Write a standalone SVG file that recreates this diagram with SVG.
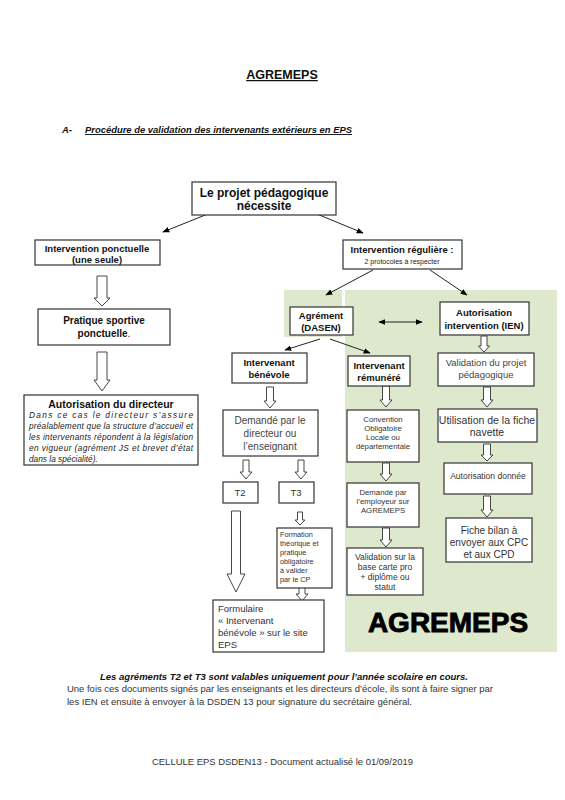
<svg xmlns="http://www.w3.org/2000/svg" width="565" height="800" viewBox="0 0 565 800">
<defs>
<marker id="ah" viewBox="0 0 10 10" refX="9" refY="5" markerWidth="7" markerHeight="7" orient="auto-start-reverse" markerUnits="userSpaceOnUse">
<path d="M0,1 L10,5 L0,9 z" fill="#000"/>
</marker>
<style>
text{font-family:"Liberation Sans",Arial,sans-serif;}
.box{fill:#fff;stroke:#333;stroke-width:1.2;}
.b{font-weight:bold;fill:#111;}
.g{fill:#444;}
.c{text-anchor:middle;}
.ln{stroke:#222;stroke-width:1;fill:none;marker-end:url(#ah);}
.ha{fill:#fff;stroke:#333;stroke-width:0.9;}
.green{fill:#dde8cc;}
</style>
</defs>
<rect width="565" height="800" fill="#fff"/>

<!-- headings -->
<text x="282" y="79" class="b c" font-size="12.5" text-decoration="underline">AGREMEPS</text>
<text x="62" y="133" font-size="9.5" font-style="italic" font-weight="bold" fill="#111">A-</text>
<text x="85" y="133" font-size="9.5" font-style="italic" font-weight="bold" fill="#111" text-decoration="underline" textLength="267" lengthAdjust="spacingAndGlyphs">Procédure de validation des intervenants extérieurs en EPS</text>

<!-- green background -->
<rect class="green" x="284" y="290" width="58" height="47"/>
<rect class="green" x="345" y="290" width="212" height="362"/>

<!-- connectors -->
<g id="connectors">
<line class="ln" x1="235" y1="203" x2="163" y2="232"/>
<line class="ln" x1="300" y1="207" x2="363" y2="233"/>
<line class="ln" x1="373" y1="270" x2="326" y2="295"/>
<line class="ln" x1="430" y1="270" x2="467" y2="295"/>
<line class="ln" x1="379" y1="322" x2="422" y2="322" style="marker-start:url(#ah)"/>
<line class="ln" x1="320" y1="339" x2="285" y2="350"/>
<line class="ln" x1="330" y1="339" x2="370" y2="353"/>
<polygon class="ha" points="97,276 107,276 107,298 110,298 102,306 94,298 97,298"/>
<polygon class="ha" points="97,352 107,352 107,380 110,380 102,391 94,380 97,380"/>
<polygon class="ha" points="266.5,387 273.5,387 273.5,401 276,401 270,408 264,401 266.5,401"/>
<polygon class="ha" points="243,460 249,460 249,472 252,472 246,479 240,472 243,472"/>
<polygon class="ha" points="298,460 304,460 304,472 307,472 301,479 295,472 298,472"/>
<polygon class="ha" points="231.5,511 240.5,511 240.5,574 245,574 236,592 227,574 231.5,574"/>
<polygon class="ha" points="297.5,512 302.5,512 302.5,520 305,520 300,525 295,520 297.5,520"/>
<polygon class="ha" points="299,584 305,584 305,594 308,594 302,601 296,594 299,594"/>
<polygon class="ha" points="382.5,386 389.5,386 389.5,400 392,400 386,407 380,400 382.5,400"/>
<polygon class="ha" points="382.5,463 389.5,463 389.5,474 392,474 386,481 380,474 382.5,474"/>
<polygon class="ha" points="382.5,528 389.5,528 389.5,540 392,540 386,547 380,540 382.5,540"/>
<polygon class="ha" points="481,336 487,336 487,346 489.5,346 484,352 478.5,346 481,346"/>
<polygon class="ha" points="483.5,387 490.5,387 490.5,400 493,400 487,407 481,400 483.5,400"/>
<polygon class="ha" points="483.5,444 490.5,444 490.5,455 493,455 487,461 481,455 483.5,455"/>
<polygon class="ha" points="483.5,496 490.5,496 490.5,510 493,510 487,517 481,510 483.5,510"/>
</g>

<g id="projet">
<rect class="box" x="192" y="182" width="144" height="33"/>
<text x="264" y="197" class="b c" font-size="12">Le projet pédagogique</text>
<text x="264" y="210" class="b c" font-size="12">nécessite</text>
</g>

<g id="ponctuelle">
<rect class="box" x="35" y="240" width="125" height="25"/>
<text x="97" y="252" class="b c" font-size="9.5">Intervention ponctuelle</text>
<text x="97" y="263" class="b c" font-size="9.5">(une seule)</text>
</g>

<g id="reguliere">
<rect class="box" x="343" y="240" width="119" height="29"/>
<text x="402" y="253" class="b c" font-size="9.5">Intervention régulière :</text>
<text x="402" y="264" class="c" font-size="7" fill="#222">2 protocoles à respecter</text>
</g>

<g id="pratique">
<rect class="box" x="38" y="309" width="132" height="36"/>
<text x="104" y="324" class="b c" font-size="10">Pratique sportive</text>
<text x="104" y="337" class="b c" font-size="10">ponctuelle<tspan font-weight="normal">.</tspan></text>
</g>

<g id="autorisation-directeur">
<rect class="box" x="24" y="395" width="174" height="70"/>
<text x="111" y="408" class="c" font-size="10.5" font-weight="bold" fill="#111">Autorisation du directeur</text>
<g font-size="8.3" font-style="italic" fill="#222">
<text x="29" y="418" textLength="164" lengthAdjust="spacing">Dans ce cas le directeur s’assure</text>
<text x="29" y="429" textLength="164" lengthAdjust="spacing">préalablement que la structure d’accueil et</text>
<text x="29" y="440" textLength="164" lengthAdjust="spacing">les intervenants répondent à la législation</text>
<text x="29" y="451" textLength="164" lengthAdjust="spacing">en vigueur (agrément JS et brevet d’état</text>
<text x="29" y="462">dans la spécialité).</text>
</g>
</g>

<g id="agrement">
<rect class="box" x="290" y="307" width="63" height="28"/>
<text x="321" y="319" class="b c" font-size="9.5">Agrément</text>
<text x="321" y="331" class="b c" font-size="9.5">(DASEN)</text>
</g>

<g id="autorisation-ien">
<rect class="box" x="440" y="302" width="89" height="33"/>
<text x="484" y="316" class="b c" font-size="9.5">Autorisation</text>
<text x="484" y="329" class="b c" font-size="9.5">intervention (IEN)</text>
</g>

<g id="benevole">
<rect class="box" x="232" y="353" width="75" height="30"/>
<text x="269" y="366" class="b c" font-size="9.5">Intervenant</text>
<text x="269" y="378" class="b c" font-size="9.5">bénévole</text>
</g>

<g id="remunere">
<rect class="box" x="348" y="356" width="62" height="30"/>
<text x="379" y="369" class="b c" font-size="9.5">Intervenant</text>
<text x="379" y="381" class="b c" font-size="9.5">rémunéré</text>
</g>

<g id="validation-projet">
<rect class="box" x="438" y="353" width="96" height="33"/>
<text x="486" y="366" class="g c" font-size="9.5">Validation du projet</text>
<text x="486" y="378" class="g c" font-size="9.5">pédagogique</text>
</g>

<g id="demande-directeur">
<rect class="box" x="223" y="410" width="95" height="46"/>
<text x="270" y="424" class="g c" font-size="10">Demandé par le</text>
<text x="270" y="437" class="g c" font-size="10">directeur ou</text>
<text x="270" y="450" class="g c" font-size="10">l’enseignant</text>
</g>

<g id="convention">
<rect class="box" x="347" y="410" width="72" height="52"/>
<text x="383" y="422" class="c" font-size="7.8" fill="#333">Convention</text>
<text x="383" y="431" class="c" font-size="7.8" fill="#333">Obligatoire</text>
<text x="383" y="440" class="c" font-size="7.8" fill="#333">Locale ou</text>
<text x="383" y="449" class="c" font-size="7.8" fill="#333">départementale</text>
</g>

<g id="utilisation">
<rect class="box" x="438" y="409" width="99" height="33"/>
<text x="487" y="424" class="c" font-size="10.5" fill="#333">Utilisation de la fiche</text>
<text x="487" y="436" class="c" font-size="10.5" fill="#333">navette</text>
</g>

<g id="autorisation-donnee">
<rect class="box" x="444" y="463" width="88" height="31"/>
<text x="488" y="479" class="c" font-size="8.5" fill="#333">Autorisation donnée</text>
</g>

<g id="t2">
<rect class="box" x="223" y="482" width="35" height="21"/>
<text x="240" y="496" class="c" font-size="9.5" fill="#333">T2</text>
</g>

<g id="t3">
<rect class="box" x="279" y="482" width="35" height="21"/>
<text x="296" y="496" class="c" font-size="9.5" fill="#333">T3</text>
</g>

<g id="demande-employeur">
<rect class="box" x="347" y="483" width="72" height="44"/>
<text x="383" y="495" class="c" font-size="7.8" fill="#333">Demandé par</text>
<text x="383" y="504" class="c" font-size="7.8" fill="#333">l’employeur sur</text>
<text x="383" y="513" class="c" font-size="7.8" fill="#333">AGREMEPS</text>
</g>

<g id="fiche-bilan">
<rect class="box" x="446" y="518" width="86" height="44"/>
<text x="489" y="534" class="c" font-size="10" fill="#333">Fiche bilan à</text>
<text x="489" y="546" class="c" font-size="10" fill="#333">envoyer aux CPC</text>
<text x="489" y="558" class="c" font-size="10" fill="#333">et aux CPD</text>
</g>

<g id="formation">
<rect class="box" x="277" y="528" width="55" height="60"/>
<g font-size="7.3" fill="#333">
<text x="280" y="537">Formation</text>
<text x="280" y="546">théorique et</text>
<text x="280" y="555">pratique</text>
<text x="280" y="564">obligatoire</text>
<text x="280" y="573">à valider</text>
<text x="280" y="582">par le CP</text>
</g>
</g>

<g id="validation-carte">
<rect class="box" x="347" y="548" width="76" height="47"/>
<text x="385" y="560" class="c" font-size="8.5" fill="#333">Validation sur la</text>
<text x="385" y="570" class="c" font-size="8.5" fill="#333">base carte pro</text>
<text x="385" y="580" class="c" font-size="8.5" fill="#333">+ diplôme ou</text>
<text x="385" y="590" class="c" font-size="8.5" fill="#333">statut</text>
</g>

<g id="formulaire">
<rect class="box" x="213" y="600" width="111" height="52"/>
<g font-size="9.5" fill="#333">
<text x="218" y="612">Formulaire</text>
<text x="218" y="624">« Intervenant</text>
<text x="218" y="636">bénévole » sur le site</text>
<text x="218" y="648">EPS</text>
</g>
</g>

<text x="448" y="632" class="c" font-size="28" font-weight="bold" fill="#000" stroke="#000" stroke-width="0.9">AGREMEPS</text>

<!-- notes -->
<text x="100" y="680" font-size="9.5" font-weight="bold" font-style="italic" fill="#111" textLength="368" lengthAdjust="spacingAndGlyphs">Les agréments T2 et T3 sont valables uniquement pour l’année scolaire en cours.</text>
<text x="67" y="692" font-size="9.3" fill="#333" textLength="426" lengthAdjust="spacingAndGlyphs">Une fois ces documents signés par les enseignants et les directeurs d’école, ils sont à faire signer par</text>
<text x="67" y="705" font-size="9.3" fill="#333" textLength="345" lengthAdjust="spacingAndGlyphs">les IEN et ensuite à envoyer à la DSDEN 13 pour signature du secrétaire général.</text>
<text x="152" y="765" font-size="9" fill="#333" textLength="261" lengthAdjust="spacingAndGlyphs">CELLULE EPS DSDEN13 - Document actualisé le 01/09/2019</text>
</svg>
